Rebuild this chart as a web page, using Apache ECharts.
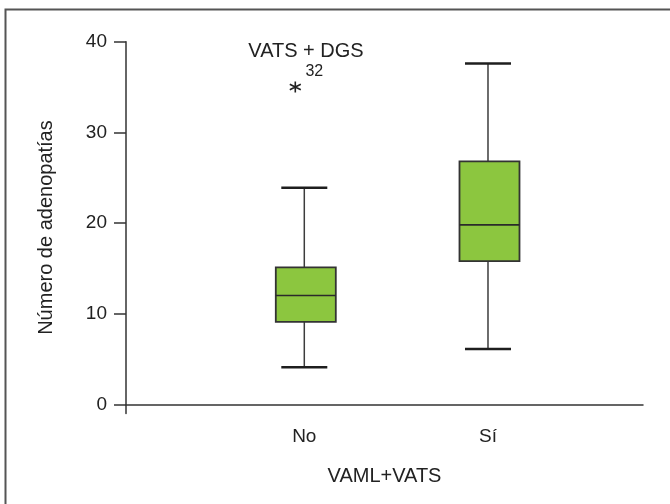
<!DOCTYPE html>
<html>
<head>
<meta charset="utf-8">
<script src="https://cdn.jsdelivr.net/npm/echarts@6/dist/echarts.min.js"></script>
<style>
  html, body { margin: 0; padding: 0; background: #ffffff; }
  #chart { width: 670px; height: 504px; }
</style>
</head>
<body>
<div id="chart"></div>
<script>
// Groups on the horizontal axis
const categories = ['No', 'Sí'];

// Box-plot summary per group (number of lymph nodes)
const whiskerLow = [4.1, 6.1];
const quartile1 = [9.1, 15.8];
const median = [12.0, 19.8];
const quartile3 = [15.1, 26.8];
const whiskerHigh = [23.9, 37.6];

// Outlying cases
const outlierGroup = ['No'];
const outlierValue = [35];
const outlierCase = ['32'];

// Y axis ticks
const yTicks = [0, 10, 20, 30, 40];

const FONT = '"Liberation Sans", Arial, Helvetica, sans-serif';
const TEXT = '#222222';
const AXIS = '#333333';
const GREEN = '#8CC63F';

// Groups sit at 1, 2, ... along the value x axis
const boxData = categories.map((c, i) => [
  i + 1, whiskerLow[i], quartile1[i], median[i], quartile3[i], whiskerHigh[i]
]);
const outlierData = outlierGroup.map((g, i) => [categories.indexOf(g) + 1, outlierValue[i]]);

function renderBox(params, api) {
  const x = api.value(0);
  const pLow = api.coord([x, api.value(1)]);
  const pQ1 = api.coord([x, api.value(2)]);
  const pMed = api.coord([x, api.value(3)]);
  const pQ3 = api.coord([x, api.value(4)]);
  const pHigh = api.coord([x, api.value(5)]);
  const cx = pMed[0];
  const boxHalf = 30;
  const boxShift = 1.5;
  const capHalf = 23;
  const whiskerStyle = { stroke: '#3c3c3c', lineWidth: 1.5 };
  const capStyle = { stroke: '#1e1e1e', lineWidth: 2.5 };
  return {
    type: 'group',
    children: [
      { type: 'line', shape: { x1: cx, y1: pHigh[1], x2: cx, y2: pQ3[1] }, style: whiskerStyle },
      { type: 'line', shape: { x1: cx, y1: pQ1[1], x2: cx, y2: pLow[1] }, style: whiskerStyle },
      { type: 'line', shape: { x1: cx - capHalf, y1: pHigh[1], x2: cx + capHalf, y2: pHigh[1] }, style: capStyle },
      { type: 'line', shape: { x1: cx - capHalf, y1: pLow[1], x2: cx + capHalf, y2: pLow[1] }, style: capStyle },
      {
        type: 'rect',
        shape: { x: cx + boxShift - boxHalf, y: pQ3[1], width: boxHalf * 2, height: pQ1[1] - pQ3[1] },
        style: { fill: GREEN, stroke: '#333333', lineWidth: 1.8 }
      },
      {
        type: 'line',
        shape: { x1: cx + boxShift - boxHalf, y1: pMed[1], x2: cx + boxShift + boxHalf, y2: pMed[1] },
        style: { stroke: '#2a2a2a', lineWidth: 1.6 }
      }
    ]
  };
}

const chart = echarts.init(document.getElementById('chart'), null, { renderer: 'canvas' });

chart.setOption({
  animation: false,
  backgroundColor: '#ffffff',
  textStyle: { fontFamily: FONT, color: TEXT },
  grid: { left: 126, right: 27, top: 41.7, bottom: 90.6, containLabel: false },
  xAxis: {
    type: 'value',
    min: 0.0294,
    max: 2.8438,
    name: 'VAML+VATS',
    nameLocation: 'middle',
    nameGap: 53,
    nameTextStyle: { fontFamily: FONT, fontSize: 20, color: TEXT },
    axisLine: { show: true, onZero: true, lineStyle: { color: AXIS, width: 1.5 } },
    axisTick: { show: false },
    splitLine: { show: false },
    axisLabel: {
      customValues: categories.map((c, i) => i + 1),
      formatter: v => categories[Math.round(v) - 1] || '',
      fontFamily: FONT,
      fontSize: 19,
      color: TEXT,
      margin: 14
    }
  },
  yAxis: {
    type: 'value',
    min: -1,
    max: 40,
    name: 'Número de adenopatías',
    nameLocation: 'middle',
    nameGap: 70,
    nameTextStyle: { fontFamily: FONT, fontSize: 20, color: TEXT },
    axisLine: { show: true, lineStyle: { color: AXIS, width: 1.5 } },
    axisTick: { show: true, customValues: yTicks, length: 12, lineStyle: { color: AXIS, width: 1.5 } },
    splitLine: { show: false },
    axisLabel: {
      customValues: yTicks,
      fontFamily: FONT,
      fontSize: 19,
      color: TEXT,
      margin: 19
    }
  },
  graphic: [
    {
      type: 'polyline',
      silent: true,
      shape: { points: [[5.5, 504], [5.5, 9.5], [670, 9.5]] },
      style: { fill: 'none', stroke: '#555555', lineWidth: 2 }
    },
    {
      type: 'text',
      silent: true,
      style: {
        x: 306, y: 41, text: 'VATS + DGS',
        font: '20px ' + FONT, fill: TEXT,
        align: 'center', verticalAlign: 'top'
      }
    }
  ],
  series: [
    {
      type: 'custom',
      name: 'Número de adenopatías',
      renderItem: renderBox,
      encode: { x: 0, y: [1, 2, 3, 4, 5] },
      data: boxData,
      z: 3
    },
    {
      type: 'scatter',
      name: 'Atípicos',
      data: outlierData,
      symbol: 'path://M0,-6L0,6M-5.2,-3L5.2,3M-5.2,3L5.2,-3',
      symbolSize: [11, 11],
      symbolOffset: [-9, 0],
      itemStyle: { color: 'none', borderColor: '#222222', borderWidth: 1.6, opacity: 1 },
      label: {
        show: true,
        position: 'inside',
        offset: [19, -15],
        formatter: p => outlierCase[p.dataIndex],
        fontFamily: FONT,
        fontSize: 16,
        color: TEXT
      },
      z: 4
    }
  ]
});
</script>
</body>
</html>
